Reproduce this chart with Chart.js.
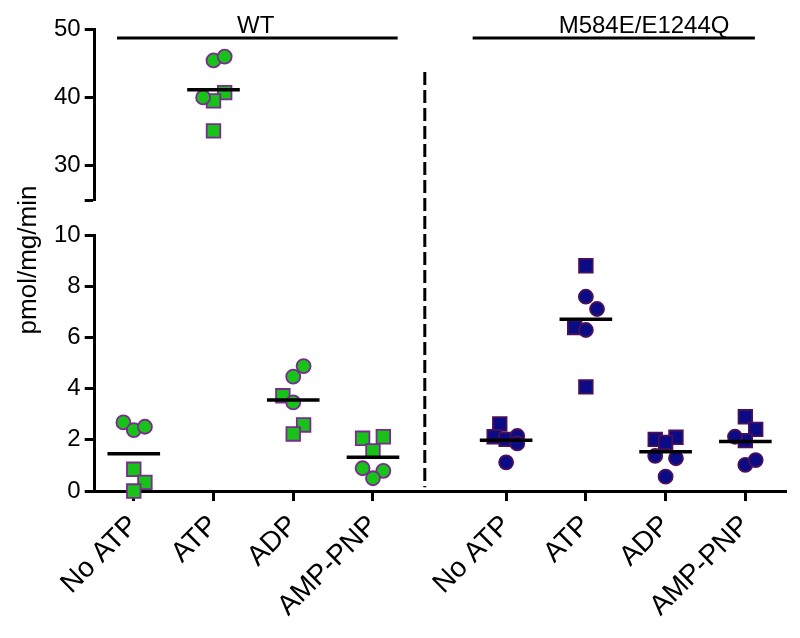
<!DOCTYPE html>
<html>
<head>
<meta charset="utf-8">
<script src="https://cdn.jsdelivr.net/npm/chart.js@4.4.1/dist/chart.umd.min.js"></script>
<style>
  html, body { margin: 0; padding: 0; background: #fff; }
  #wrap { width: 800px; height: 638px; }
</style>
</head>
<body>
<div id="wrap"><canvas id="chart"></canvas></div>
<script>
// Categories, groups
const categories = ['No ATP', 'ATP', 'ADP', 'AMP-PNP'];
const groupNames = ['WT', 'M584E/E1244Q'];
// x slot of each column (mutant block sits after a gap)
const wtX = [0, 1, 2, 3];
const mutX = [4.67, 5.67, 6.67, 7.67];

// pmol/mg/min; circles and squares = two replicate sets
const wtCircles = [[2.68, 2.38, 2.51], [45.4, 45.95, 40.0], [4.47, 4.88, 3.46], [0.89, 0.79, 0.5]];
const wtSquares = [[0.85, 0.34, 0.0], [40.7, 39.5, 35.1], [3.72, 2.58, 2.23], [2.06, 2.12, 1.57]];
const mutCircles = [[2.15, 1.86, 1.12], [7.59, 7.11, 6.29], [1.37, 1.28, 0.56], [2.12, 1.02, 1.21]];
const mutSquares = [[2.62, 2.12, 2.02], [8.8, 6.39, 4.07], [2.02, 2.1, 1.9], [2.9, 2.41, 1.97]];

// horizontal scatter of each point within its column
const wtCircleJit = [[-0.13, 0, 0.14], [0, 0.14, -0.13], [0, 0.13, 0], [-0.13, 0.13, 0]];
const wtSquareJit = [[0, 0.14, 0], [0.14, 0, 0], [-0.13, 0.13, 0], [-0.13, 0.13, 0]];
const mutCircleJit = [[0.14, 0.14, 0], [0, 0.14, 0], [-0.13, 0.13, 0], [-0.13, 0, 0.13]];
const mutSquareJit = [[-0.08, -0.15, 0], [0, -0.14, 0], [-0.13, 0.13, 0], [0, 0.13, 0]];

// broken y axis: lower 0-10, upper 25-50
const yLowTicks = [0, 2, 4, 6, 8, 10];
const yHighTicks = [25, 30, 40, 50];
const breakAt = 25;

const FONT = 'Arial, "Liberation Sans", sans-serif';
const WT_FILL = '#19c219';
const WT_EDGE = '#7a2a90';
const MUT_FILL = '#0b0b85';
const MUT_EDGE = '#4a1058';

function pts(vals, jit, xs, high) {
    const out = [];
    vals.forEach(function (arr, i) {
        arr.forEach(function (v, j) {
            if ((v >= breakAt) === high) out.push({ x: xs[i] + jit[i][j], y: v });
        });
    });
    return out;
}

function meanLine(circles, squares, xs, high) {
    const out = [];
    circles.forEach(function (arr, i) {
        const all = arr.concat(squares[i]);
        const m = all.reduce(function (a, b) { return a + b; }, 0) / all.length;
        if ((m >= breakAt) !== high) return;
        out.push({ x: xs[i] - 0.33, y: m }, { x: xs[i] + 0.33, y: m }, { x: xs[i], y: null });
    });
    return out;
}

function scatterSet(data, shape, fill, edge, axis) {
    return {
        type: 'scatter',
        data: data,
        yAxisID: axis,
        pointStyle: shape,
        pointRadius: shape === 'rect' ? 9.6 : 7,
        backgroundColor: fill,
        borderColor: edge,
        borderWidth: 1.8,
        clip: false,
        order: 2
    };
}

function meanSet(data, axis) {
    return {
        type: 'line',
        data: data,
        yAxisID: axis,
        borderColor: '#000',
        borderWidth: 3.5,
        pointRadius: 0,
        spanGaps: false,
        clip: false,
        order: 0
    };
}

const datasets = [];
[true, false].forEach(function (high) {
    const ax = high ? 'yHigh' : 'yLow';
    datasets.push(scatterSet(pts(wtCircles, wtCircleJit, wtX, high), 'circle', WT_FILL, WT_EDGE, ax));
    datasets.push(scatterSet(pts(wtSquares, wtSquareJit, wtX, high), 'rect', WT_FILL, WT_EDGE, ax));
    datasets.push(scatterSet(pts(mutCircles, mutCircleJit, mutX, high), 'circle', MUT_FILL, MUT_EDGE, ax));
    datasets.push(scatterSet(pts(mutSquares, mutSquareJit, mutX, high), 'rect', MUT_FILL, MUT_EDGE, ax));
    datasets.push(meanSet(meanLine(wtCircles, wtSquares, wtX, high), ax));
    datasets.push(meanSet(meanLine(mutCircles, mutSquares, mutX, high), ax));
});

// group bars, separator, axis title
const decorPlugin = {
    id: 'decor',
    afterDraw: function (chart) {
        const ctx = chart.ctx;
        const xs = chart.scales.x;
        const yh = chart.scales.yHigh;
        const yl = chart.scales.yLow;
        ctx.save();
        ctx.strokeStyle = '#000';
        ctx.fillStyle = '#000';
        ctx.lineWidth = 3;

        const barY = yh.getPixelForValue(48.7);
        const bars = [[-0.21, 3.31, 1.53], [4.25, 7.79, 6.4]];
        ctx.font = '24px ' + FONT;
        ctx.textAlign = 'center';
        ctx.textBaseline = 'alphabetic';
        bars.forEach(function (b, i) {
            ctx.beginPath();
            ctx.moveTo(xs.getPixelForValue(b[0]), barY);
            ctx.lineTo(xs.getPixelForValue(b[1]), barY);
            ctx.stroke();
            ctx.fillText(groupNames[i], xs.getPixelForValue(b[2]), barY - 5);
        });

        const dx = xs.getPixelForValue(3.65);
        ctx.setLineDash([13, 5]);
        ctx.beginPath();
        ctx.moveTo(dx, yh.getPixelForValue(43.7));
        ctx.lineTo(dx, yl.getPixelForValue(0.15));
        ctx.stroke();
        ctx.setLineDash([]);

        ctx.translate(36, (chart.chartArea.top + chart.chartArea.bottom) / 2);
        ctx.rotate(-Math.PI / 2);
        ctx.font = '26px ' + FONT;
        ctx.textBaseline = 'alphabetic';
        ctx.fillText('pmol/mg/min', 0, 0);
        ctx.restore();
    }
};

const yGrid = { drawOnChartArea: false, drawTicks: true, tickLength: 10, tickWidth: 3, tickColor: '#000' };
const yBorder = { display: true, color: '#000', width: 3 };

new Chart(document.getElementById('chart'), {
    type: 'scatter',
    data: { datasets: datasets },
    options: {
        responsive: true,
        maintainAspectRatio: false,
        animation: false,
        events: [],
        layout: { padding: { top: 29, left: 50, right: 14, bottom: 7 } },
        plugins: { legend: { display: false }, tooltip: { enabled: false } },
        scales: {
            x: {
                type: 'linear',
                min: -0.49,
                max: 8.18,
                afterBuildTicks: function (s) {
                    s.ticks = wtX.concat(mutX).map(function (v) { return { value: v }; });
                },
                ticks: {
                    autoSkip: false,
                    minRotation: 45,
                    maxRotation: 45,
                    padding: 8,
                    color: '#000',
                    font: { family: FONT, size: 28 },
                    callback: function (v, i) { return categories[i % categories.length]; }
                },
                grid: { drawOnChartArea: false, drawTicks: true, tickLength: 10, tickWidth: 3, tickColor: '#000' },
                border: { display: true, color: '#000', width: 3 }
            },
            yLow: {
                type: 'linear',
                position: 'left',
                stack: 'v',
                stackWeight: 256,
                min: 0,
                max: 10,
                afterBuildTicks: function (s) {
                    s.ticks = yLowTicks.map(function (v) { return { value: v }; });
                },
                ticks: {
                    padding: 4,
                    color: '#000',
                    font: { family: FONT, size: 24 }
                },
                grid: yGrid,
                border: yBorder
            },
            yGap: {
                type: 'linear',
                position: 'left',
                stack: 'v',
                stackWeight: 35,
                min: 10,
                max: 25,
                ticks: { display: false },
                grid: { display: false },
                border: { display: false }
            },
            yHigh: {
                type: 'linear',
                position: 'left',
                stack: 'v',
                stackWeight: 171,
                min: 25,
                max: 50,
                afterBuildTicks: function (s) {
                    s.ticks = yHighTicks.map(function (v) { return { value: v }; });
                },
                ticks: {
                    padding: 4,
                    color: '#000',
                    font: { family: FONT, size: 24 },
                    callback: function (v) { return v === breakAt ? '' : v; }
                },
                grid: yGrid,
                border: yBorder
            }
        }
    },
    plugins: [decorPlugin]
});
</script>
</body>
</html>
